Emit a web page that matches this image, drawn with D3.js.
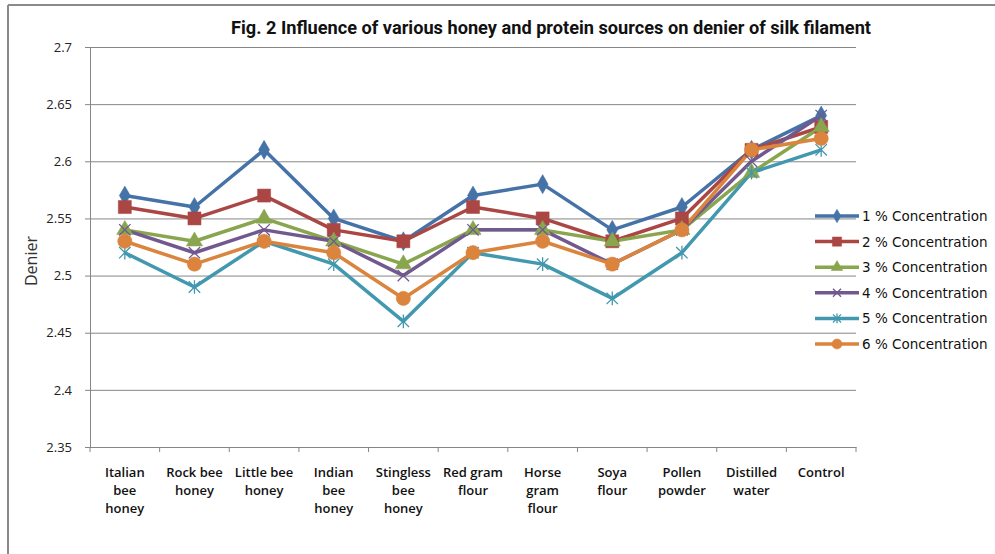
<!DOCTYPE html>
<html>
<head>
<meta charset="utf-8">
<script src="https://cdn.jsdelivr.net/npm/d3@7"></script>
<style>
  body { margin: 0; background: #fff; }
  svg { display: block; }
</style>
</head>
<body>
<script>
'use strict';

// categories on the x axis (line breaks as in the picture)
const categories = [
  "Italian\nbee\nhoney", "Rock bee\nhoney", "Little bee\nhoney", "Indian\nbee\nhoney",
  "Stingless\nbee\nhoney", "Red gram\nflour", "Horse\ngram\nflour", "Soya\nflour",
  "Pollen\npowder", "Distilled\nwater", "Control"
];

const seriesNames = [
  "1 % Concentration", "2 % Concentration", "3 % Concentration",
  "4 % Concentration", "5 % Concentration", "6 % Concentration"
];

// denier values, one array per concentration
const conc1 = [2.57, 2.56, 2.61, 2.55, 2.53, 2.57, 2.58, 2.54, 2.56, 2.61, 2.64];
const conc2 = [2.56, 2.55, 2.57, 2.54, 2.53, 2.56, 2.55, 2.53, 2.55, 2.61, 2.63];
const conc3 = [2.54, 2.53, 2.55, 2.53, 2.51, 2.54, 2.54, 2.53, 2.54, 2.59, 2.63];
const conc4 = [2.54, 2.52, 2.54, 2.53, 2.50, 2.54, 2.54, 2.51, 2.54, 2.60, 2.64];
const conc5 = [2.52, 2.49, 2.53, 2.51, 2.46, 2.52, 2.51, 2.48, 2.52, 2.59, 2.61];
const conc6 = [2.53, 2.51, 2.53, 2.52, 2.48, 2.52, 2.53, 2.51, 2.54, 2.61, 2.62];

const yTickValues = [2.35, 2.4, 2.45, 2.5, 2.55, 2.6, 2.65, 2.7];
const yTickLabels = ["2.35", "2.4", "2.45", "2.5", "2.55", "2.6", "2.65", "2.7"];

const colors = ["#4572A7", "#AA4643", "#89A54E", "#71588F", "#4198AF", "#DB843D"];

// custom marker shapes for the X and the asterisk
const symbolX = {
  draw(ctx, size) {
    const r = Math.sqrt(size) / 2;
    ctx.moveTo(-r, -r); ctx.lineTo(r, r);
    ctx.moveTo(r, -r); ctx.lineTo(-r, r);
  }
};
const symbolStar = {
  draw(ctx, size) {
    const r = Math.sqrt(size) / 2;
    ctx.moveTo(-r, -r); ctx.lineTo(r, r);
    ctx.moveTo(r, -r); ctx.lineTo(-r, r);
    ctx.moveTo(0, -r * 1.2); ctx.lineTo(0, r * 1.2);
  }
};

const markers = [
  { type: d3.symbolDiamond, size: 105, filled: true },
  { type: d3.symbolSquare, size: 170, filled: true },
  { type: d3.symbolTriangle, size: 115, filled: true },
  { type: symbolX, size: 130, filled: false },
  { type: symbolStar, size: 130, filled: false },
  { type: d3.symbolCircle, size: 160, filled: true }
];

const series = [conc1, conc2, conc3, conc4, conc5, conc6].map((vals, i) => ({
  name: seriesNames[i], values: vals, color: colors[i], marker: markers[i]
}));

const W = 995, H = 554;
const plot = { left: 90, right: 856, top: 47, bottom: 447 };

const svg = d3.select('body').append('svg')
  .attr('width', W)
  .attr('height', H);

// chart frame (top and left edges are visible)
svg.append('line').attr('x1', 8).attr('x2', W).attr('y1', 5).attr('y2', 5)
  .attr('stroke', '#8a8a8a').attr('stroke-width', 2);
svg.append('line').attr('x1', 8).attr('x2', 8).attr('y1', 5).attr('y2', H)
  .attr('stroke', '#8a8a8a').attr('stroke-width', 2);

const x = d3.scaleBand()
  .domain(categories)
  .range([plot.left, plot.right])
  .padding(0);
const xc = (i) => x(categories[i]) + x.bandwidth() / 2;

const y = d3.scaleLinear()
  .domain([2.35, 2.7])
  .range([plot.bottom, plot.top]);

// horizontal gridlines
svg.append('g')
  .attr('transform', `translate(${plot.left},0)`)
  .call(d3.axisLeft(y).tickValues(yTickValues).tickSize(-(plot.right - plot.left)).tickFormat(''))
  .call(g => g.select('.domain').remove())
  .call(g => g.selectAll('line').attr('stroke', '#868686'));

// y axis
svg.append('g')
  .attr('transform', `translate(${plot.left},0)`)
  .call(d3.axisLeft(y).tickValues(yTickValues).tickSize(5).tickPadding(13)
    .tickFormat((d, i) => yTickLabels[i]))
  .call(g => g.select('.domain').attr('stroke', '#868686'))
  .call(g => g.selectAll('line').attr('stroke', '#868686'))
  .call(g => g.selectAll('text')
    .style('font-family', '"Open Sans", "Noto Sans", sans-serif')
    .style('font-size', '13px')
    .attr('fill', '#222'));

// x axis: line plus tick marks between categories
const xAxisG = svg.append('g').attr('transform', `translate(0,${plot.bottom})`);
xAxisG.call(d3.axisBottom(x).tickSize(0).tickFormat(''))
  .call(g => g.select('.domain').attr('stroke', '#868686'))
  .call(g => g.selectAll('.tick').remove());
xAxisG.selectAll('.sep')
  .data(categories.concat(['__end']))
  .enter()
  .append('line')
  .attr('x1', (d, i) => i < categories.length ? x(d) : plot.right)
  .attr('x2', (d, i) => i < categories.length ? x(d) : plot.right)
  .attr('y1', 0)
  .attr('y2', 5)
  .attr('stroke', '#868686');

// category labels
const xLabels = svg.append('g');
categories.forEach((c, i) => {
  const t = xLabels.append('text')
    .attr('x', xc(i))
    .attr('y', 477)
    .attr('text-anchor', 'middle')
    .style('font-family', '"Open Sans", "Noto Sans", sans-serif')
    .style('font-size', '13px')
    .style('font-weight', '600')
    .attr('fill', '#111');
  c.split('\n').forEach((ln, k) => {
    t.append('tspan').attr('x', xc(i)).attr('dy', k === 0 ? 0 : 18).text(ln);
  });
});

// axis title
svg.append('text')
  .attr('transform', 'translate(37, 261)rotate(-90)')
  .attr('text-anchor', 'middle')
  .style('font-family', '"Open Sans", "Noto Sans", sans-serif')
  .style('font-size', '16px')
  .attr('fill', '#333')
  .text('Denier');

// chart title
svg.append('text')
  .attr('x', 551)
  .attr('y', 34)
  .attr('text-anchor', 'middle')
  .attr('textLength', 640)
  .attr('lengthAdjust', 'spacingAndGlyphs')
  .style('font-family', '"Liberation Sans Narrow", "Roboto", "Liberation Sans", sans-serif')
  .style('font-size', '18px')
  .style('font-weight', 'bold')
  .attr('fill', '#111')
  .text('Fig. 2 Influence of various honey and protein sources on denier of silk filament');

// lines
const line = d3.line()
  .x((d, i) => xc(i))
  .y(d => y(d));

series.forEach(s => {
  svg.append('path')
    .datum(s.values)
    .attr('d', line)
    .attr('fill', 'none')
    .attr('stroke', s.color)
    .attr('stroke-width', 3.5)
    .attr('stroke-linejoin', 'round');
});

// markers
function drawMarker(g, s, px, py, scale) {
  const m = s.marker;
  g.append('path')
    .attr('transform', `translate(${px},${py})`)
    .attr('d', d3.symbol().type(m.type).size(m.size * scale)())
    .attr('fill', m.filled ? s.color : 'none')
    .attr('stroke', s.color)
    .attr('stroke-width', m.filled ? 0.5 : 1.3);
}

series.forEach(s => {
  const g = svg.append('g');
  s.values.forEach((v, i) => drawMarker(g, s, xc(i), y(v), 1));
});

// legend
const legend = svg.append('g');
series.forEach((s, i) => {
  const ly = 216 + i * 25.6;
  legend.append('line')
    .attr('x1', 815).attr('x2', 859)
    .attr('y1', ly).attr('y2', ly)
    .attr('stroke', s.color)
    .attr('stroke-width', 3.5);
  drawMarker(legend, s, 837, ly, 0.5);
  legend.append('text')
    .attr('x', 862)
    .attr('y', ly + 5)
    .style('font-family', '"DejaVu Sans", sans-serif')
    .style('font-size', '13.5px')
    .attr('fill', '#111')
    .text(s.name);
});
</script>
</body>
</html>
